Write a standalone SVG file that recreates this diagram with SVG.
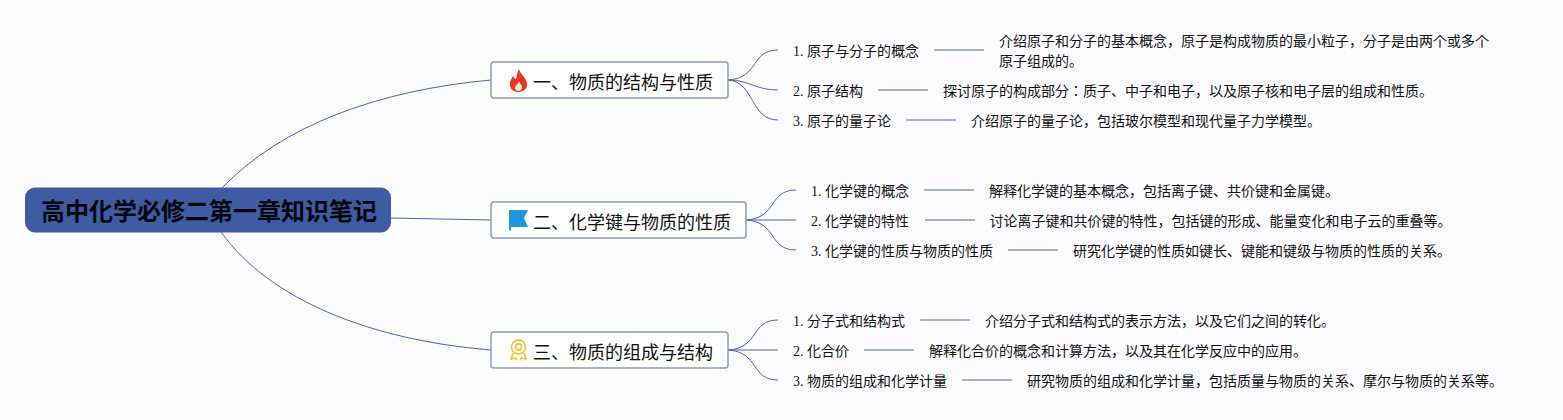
<svg xmlns="http://www.w3.org/2000/svg" width="1563" height="420" viewBox="0 0 1563 420">
<style>
text{font-family:"Liberation Serif","Noto Sans CJK JP",serif;fill:#111}
.root{font-size:24px;font-weight:700;fill:#05070f}
.b{font-size:18px}
.t{font-size:14px}
.c{fill:none;stroke:#4f659f;stroke-width:1}
.l{fill:none;stroke:#8b98c0;stroke-width:1.300}
.br{fill:#fff;stroke:#8b9bc2;stroke-width:1.500}
</style>
<rect width="1563" height="420" fill="#fcfcfe"/>
<g id="connectors">
<path class="c" d="M222 188C282 125 380 90 491 80"/>
<path class="c" d="M391 218L491 220"/>
<path class="c" d="M221 232C270 300 370 340 491 350"/>
<path class="c" d="M728 80C760 78 750 50 778 50"/>
<path class="c" d="M728 80C750 80 755 90 778 90"/>
<path class="c" d="M728 80C755 82 750 120 778 120"/>
<path class="c" d="M746 220C778 218 768 190 796 190"/>
<path class="c" d="M746 220L796 220"/>
<path class="c" d="M746 220C778 222 768 250 796 250"/>
<path class="c" d="M728 350C760 348 750 320 778 320"/>
<path class="c" d="M728 350L778 350"/>
<path class="c" d="M728 350C760 352 750 380 778 380"/>
<path class="l" d="M934 50H984M878 90H928M906 120H956M924 190H974M925 220H975M1008 250H1058M920 320H970M864 350H914M962 380H1012"/>
</g>
<g id="root"><rect x="25" y="187.500" width="366" height="45" rx="10" fill="#3f5ba3"/><text class="root" x="41" y="220">高中化学必修二第一章知识笔记</text></g>
<g id="b1"><rect class="br" x="491" y="62" width="237" height="36" rx="3"/>
<path d="M519 69C520 74 526 77 527 83C528 88 524 92 518 92C513 92 509 88 510 83C510 80 512 78 513 76C514 78 515 79 516 79C517 76 517 72 519 69Z" fill="#e8391d"/>
<path d="M519 81C520 84 522 85 522 87C522 90 520 91 518.500 91C517 91 515 90 515 88C515 85 518 85 519 81Z" fill="#fde9d8"/>
<text class="b" x="533" y="88.500">一、物质的结构与性质</text></g>
<g id="b2"><rect class="br" x="491" y="202" width="255" height="36" rx="3"/>
<path d="M509 210H528L524 218L528 227H511V231L509 230Z" fill="#1f97dc"/>
<text class="b" x="533" y="228.500">二、化学键与物质的性质</text></g>
<g id="b3"><rect class="br" x="491" y="332" width="237" height="36" rx="3"/>
<g fill="none" stroke="#f4c542" stroke-width="1.800"><circle cx="518.500" cy="347" r="7"/><circle cx="518.500" cy="347" r="3"/><path d="M513 353L511 359L515 358L517 360M524 353L526 359L522 358L520 360"/></g>
<text class="b" x="533" y="358.500">三、物质的组成与结构</text></g>
<g id="n11"><text class="t" x="793" y="56">1. 原子与分子的概念</text></g>
<g id="d11"><text class="t" x="999" y="46">介绍原子和分子的基本概念，原子是构成物质的最小粒子，分子是由两个或多个</text><text class="t" x="999" y="66">原子组成的。</text></g>
<g id="n12"><text class="t" x="793" y="96">2. 原子结构</text></g>
<g id="d12"><text class="t" x="943" y="96">探讨原子的构成部分：质子、中子和电子，以及原子核和电子层的组成和性质。</text></g>
<g id="n13"><text class="t" x="793" y="126">3. 原子的量子论</text></g>
<g id="d13"><text class="t" x="971" y="126">介绍原子的量子论，包括玻尔模型和现代量子力学模型。</text></g>
<g id="n21"><text class="t" x="811" y="196">1. 化学键的概念</text></g>
<g id="d21"><text class="t" x="989" y="196">解释化学键的基本概念，包括离子键、共价键和金属键。</text></g>
<g id="n22"><text class="t" x="811" y="226">2. 化学键的特性</text></g>
<g id="d22"><text class="t" x="989.500" y="226">讨论离子键和共价键的特性，包括键的形成、能量变化和电子云的重叠等。</text></g>
<g id="n23"><text class="t" x="811" y="256">3. 化学键的性质与物质的性质</text></g>
<g id="d23"><text class="t" x="1073" y="256">研究化学键的性质如键长、键能和键级与物质的性质的关系。</text></g>
<g id="n31"><text class="t" x="793" y="326">1. 分子式和结构式</text></g>
<g id="d31"><text class="t" x="985" y="326">介绍分子式和结构式的表示方法，以及它们之间的转化。</text></g>
<g id="n32"><text class="t" x="793" y="356">2. 化合价</text></g>
<g id="d32"><text class="t" x="929" y="356">解释化合价的概念和计算方法，以及其在化学反应中的应用。</text></g>
<g id="n33"><text class="t" x="793" y="386">3. 物质的组成和化学计量</text></g>
<g id="d33"><text class="t" x="1027" y="386">研究物质的组成和化学计量，包括质量与物质的关系、摩尔与物质的关系等。</text></g>
</svg>
